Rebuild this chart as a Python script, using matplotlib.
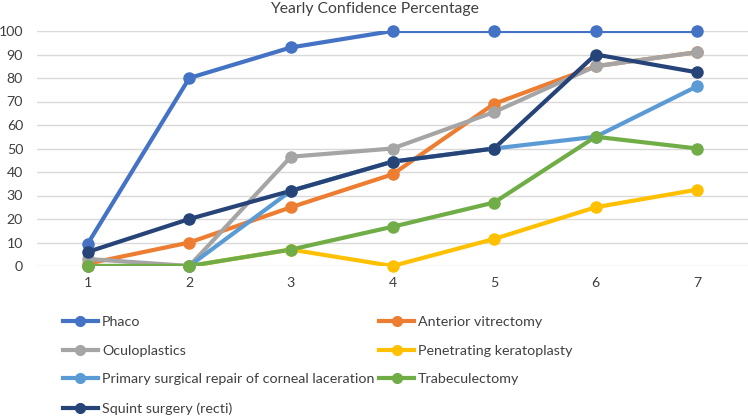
import matplotlib
matplotlib.use("Agg")
import matplotlib.pyplot as plt
import numpy as np

years = [1, 2, 3, 4, 5, 6, 7]
phaco = [9.5, 80, 93, 100, 100, 100, 100]
anterior = [1, 10, 25, 39, 69, 85, 91]
oculo = [3, 0, 46.5, 50, 65.5, 85, 91]
penetrating = [0, 0, 7, 0, 11.5, 25, 32.5]
primary = [0, 0, 32, 44.4, 50, 55, 76.5]
trab = [0, 0, 7, 16.7, 27, 55, 50]
squint = [6, 20, 32, 44.4, 50, 90, 82.4]

names = ["Phaco", "Anterior vitrectomy", "Oculoplastics", "Penetrating keratoplasty",
         "Primary surgical repair of corneal laceration", "Trabeculectomy", "Squint surgery (recti)"]
series = [phaco, anterior, oculo, penetrating, primary, trab, squint]
colors = ["#4472C4", "#ED7D31", "#A5A5A5", "#FFC000", "#5B9BD5", "#70AD47", "#264478"]

plt.rcParams['font.family'] = ['Lato', 'DejaVu Sans']
fig = plt.figure(figsize=(7.48, 4.16), dpi=100)
ax = fig.add_axes([37/748, 150/416, 711/748, 235/416])

handles = {}
for name, vals, c in zip(names, series, colors):
    ax.plot(years, vals, color=c, lw=3, solid_capstyle='round', zorder=3)
    ax.plot(years, vals, color=c, lw=0, marker='o', ms=8, clip_on=False, zorder=4)
    handles[name], = ax.plot([], [], color=c, lw=3, marker='o', ms=7)

ax.set_xlim(0.5, 7.5)
ax.set_ylim(0, 100)
ax.set_yticks(np.arange(0, 101, 10))
ax.set_xticks(years)
ax.grid(axis='y', color='#D9D9D9', lw=1)
ax.set_axisbelow(True)
for s in ax.spines.values():
    s.set_visible(False)
ax.tick_params(length=0, labelsize=10.2, colors='#404040')
ax.tick_params(axis='x', pad=8)
ax.tick_params(axis='y', pad=10)
fig.text(0.5, 1 - 9/416, "Yearly Confidence Percentage", ha='center', va='center',
         fontsize=11.3, color='#404040')

order = [0, 2, 4, 6, 1, 3, 5]
leg = fig.legend([handles[names[i]] for i in order], [names[i] for i in order],
                 ncol=2, loc='upper left', bbox_to_anchor=(50/748, 1 - 303/416),
                 frameon=False, fontsize=10.3, handlelength=2.45, handletextpad=0.28,
                 columnspacing=0.34, labelspacing=1.17, labelcolor='#404040')

fig.savefig("out.png", dpi=100)
